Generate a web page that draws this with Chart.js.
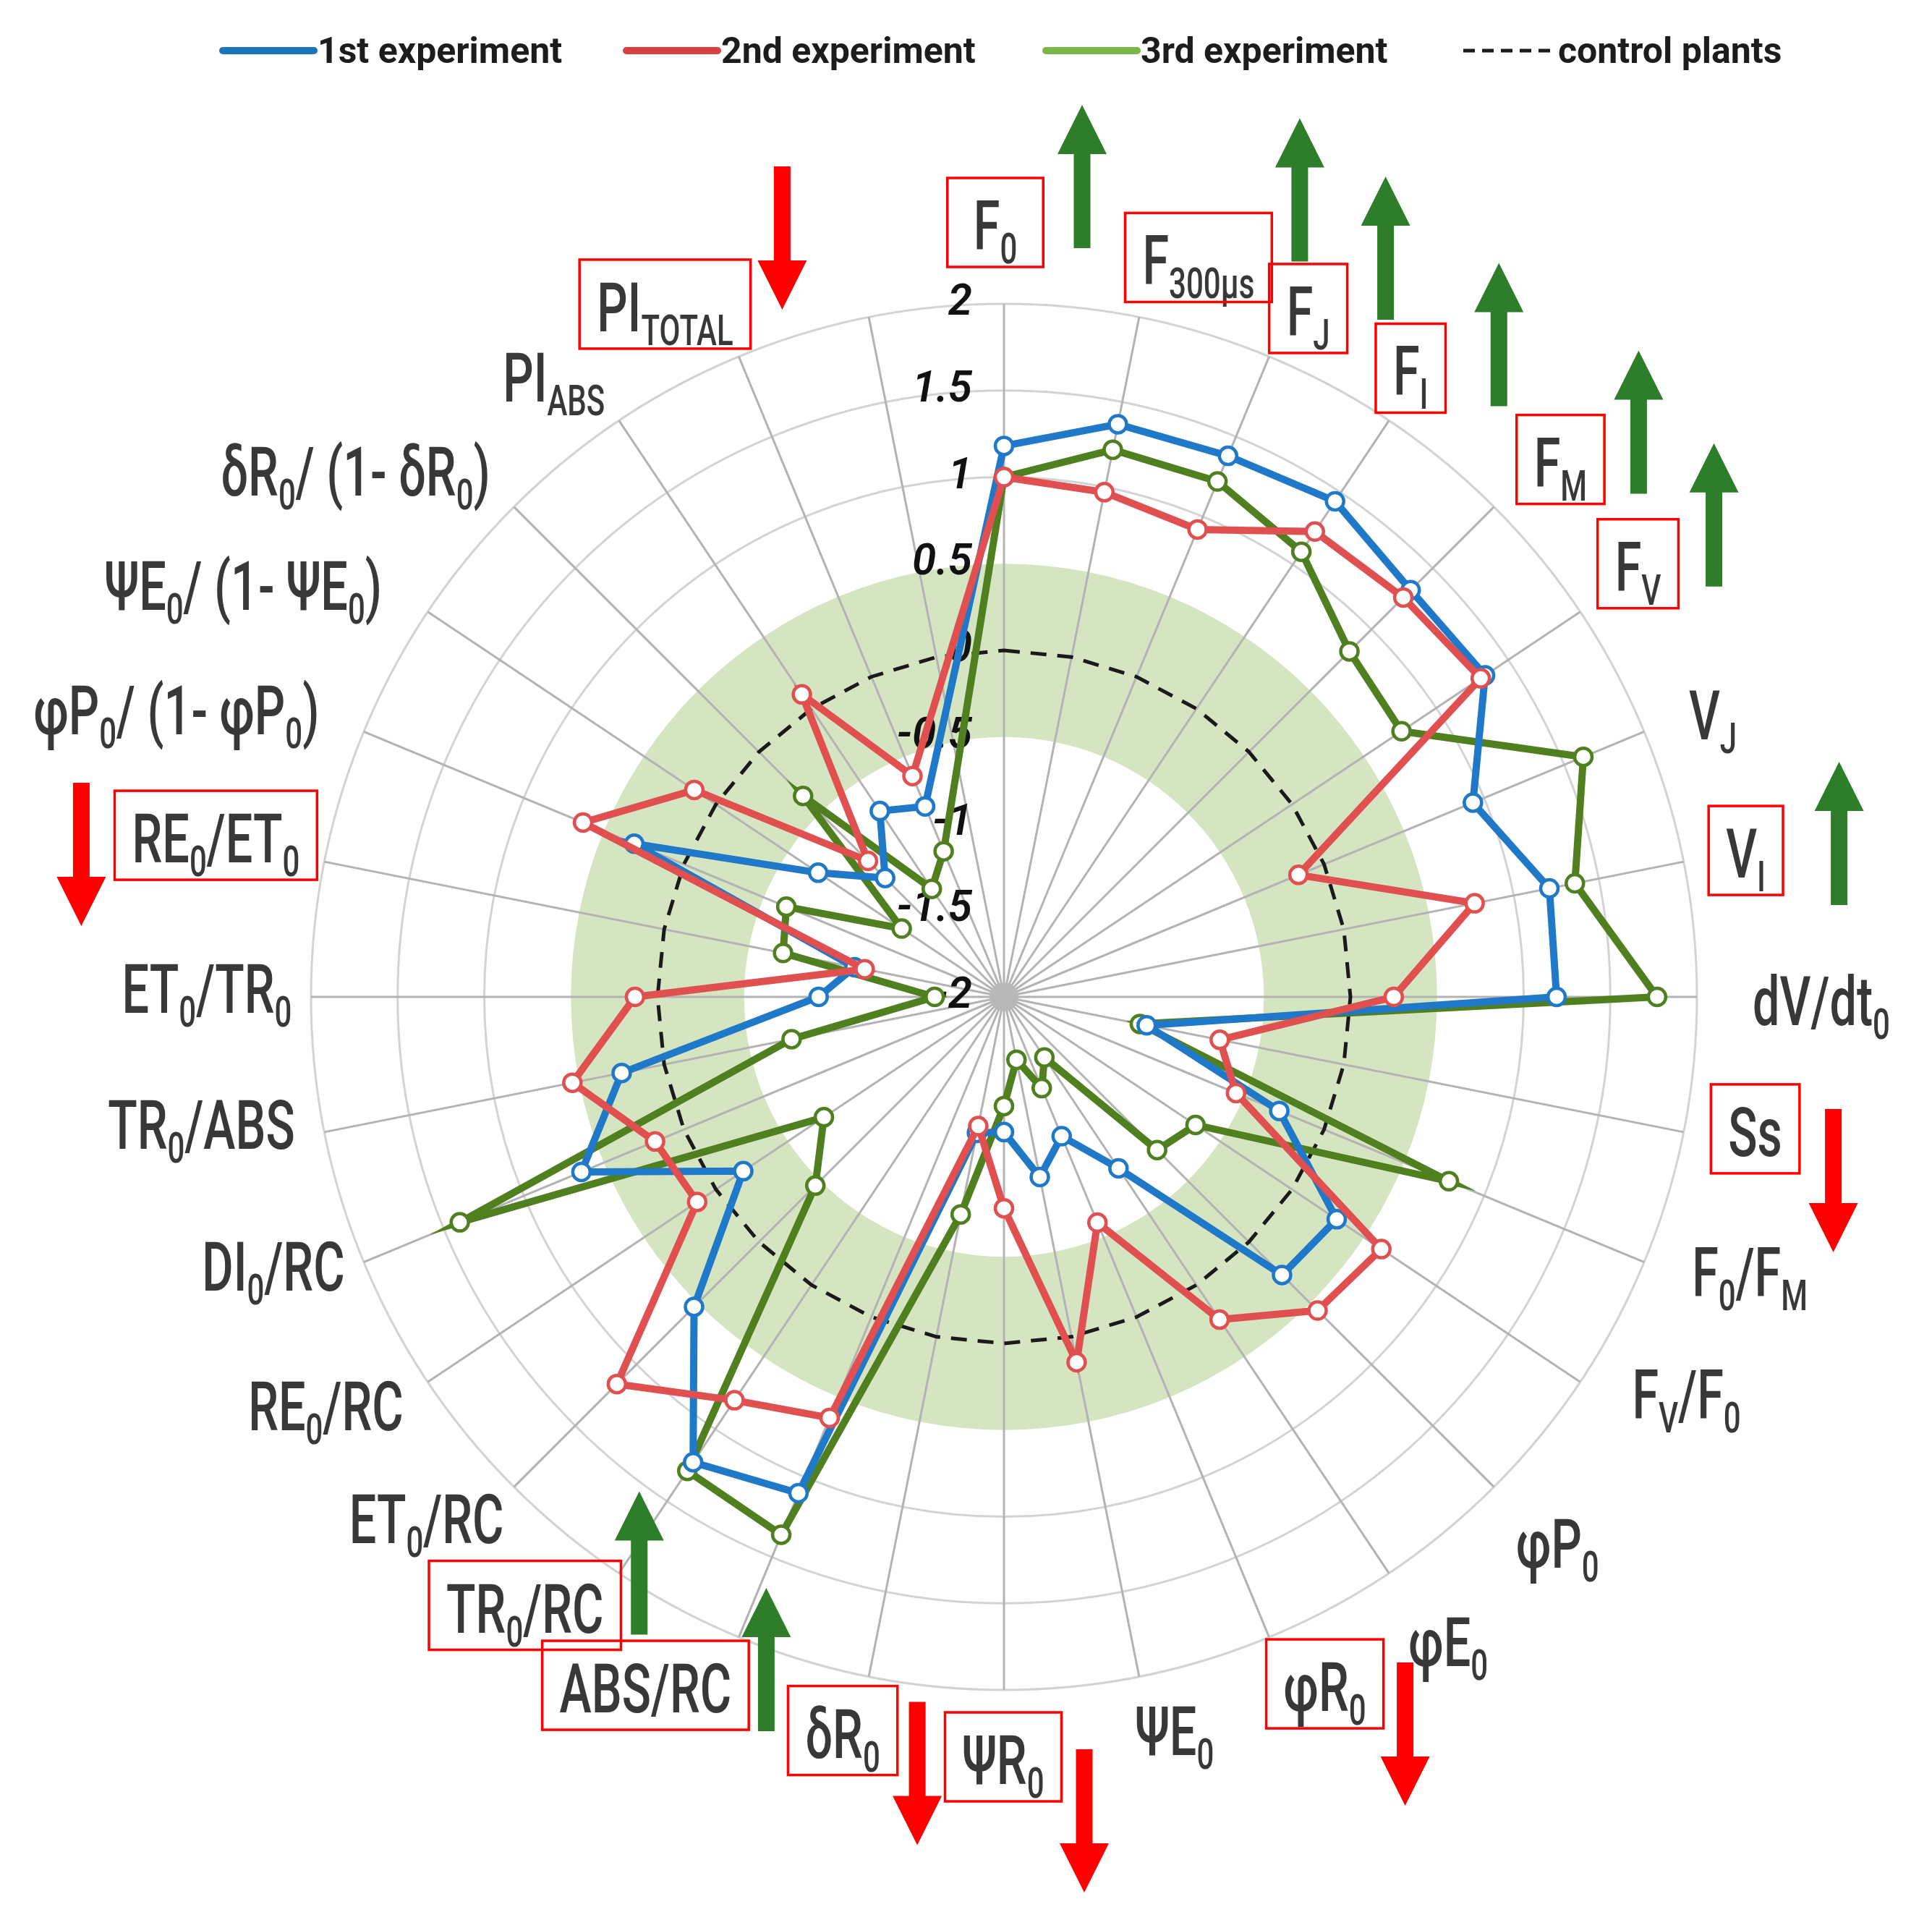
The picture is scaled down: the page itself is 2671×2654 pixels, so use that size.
<!DOCTYPE html>
<html lang="en">
<head>
<meta charset="utf-8">
<title>JIP-test radar</title>
<script src="https://cdn.jsdelivr.net/npm/chart.js@4.4.1/dist/chart.umd.min.js"></script>
<style>
    html, body { margin: 0; padding: 0; background: #ffffff; }
    canvas { display: block; }
</style>
</head>
<body>
<canvas id="grafic-radar" width="2671" height="2654"></canvas>
<script>
// Paràmetres del test JIP, en sentit horari des de dalt. _{...} = subíndex
var parametres = ['F_{0}', 'F_{300µs}', 'F_{J}', 'F_{I}', 'F_{M}', 'F_{V}', 'V_{J}', 'V_{I}', 'dV/dt_{0}', 'Ss',
    'F_{0}/F_{M}', 'F_{V}/F_{0}', 'φP_{0}', 'φE_{0}', 'φR_{0}', 'ΨE_{0}', 'ΨR_{0}', 'δR_{0}', 'ABS/RC', 'TR_{0}/RC',
    'ET_{0}/RC', 'RE_{0}/RC', 'DI_{0}/RC', 'TR_{0}/ABS', 'ET_{0}/TR_{0}', 'RE_{0}/ET_{0}', 'φP_{0}/ (1- φP_{0})',
    'ΨE_{0}/ (1- ΨE_{0})', 'δR_{0}/ (1- δR_{0})', 'PI_{ABS}', 'PI_{TOTAL}', ''];

var experiment1 = [1.18, 1.37, 1.38, 1.44, 1.32, 1.34, 0.93, 1.21, 1.19, -1.16, -0.28, 0.31, 0.27, -0.81, -1.13, -0.94,
    -1.22, -1.2, 1.10, 1.23, 0.53, -0.19, 0.64, 0.25, -0.93, -1.12, 0.31, -0.71, -1.03, -0.71, -0.81, null];
var experiment2 = [1.0, 0.97, 0.92, 1.23, 1.26, 1.31, -0.16, 0.77, 0.25, -0.73, -0.55, 0.62, 0.56, 0.24, -0.59, 0.15,
    -0.78, -1.24, 0.63, 0.80, 1.16, 0.13, 0.18, 0.54, 0.13, -1.18, 0.63, 0.15, -0.89, 0.10, -0.62, null];
var experiment3 = [1.0, 1.22, 1.22, 1.09, 0.82, 0.76, 1.62, 1.36, 1.77, -1.2, 0.78, -0.67, -0.75, -1.58, -1.43, -1.63,
    -1.37, -0.72, 1.36, 1.29, -0.46, -0.75, 1.40, -0.75, -1.6, -0.70, -0.64, -1.29, -0.36, -1.25, -1.09, null];
var controls = [0, 0, 0, 0, 0, 0, 0, 0, 0, 0, 0, 0, 0, 0, 0, 0, 0, 0, 0, 0, 0, 0, 0, 0, 0, 0, 0, 0, 0, 0, 0, 0];

var valorsEscala = [-2, -1.5, -1, -0.5, 0, 0.5, 1, 1.5, 2];
var etiquetesEscala = ['-2', '-1.5', '-1', '-0.5', '0', '0.5', '1', '1.5', '2'];
var bandaControl = [-0.5, 0.5];

// anotacions: etiquetes emmarcades, fletxes verdes (puja) i vermelles (baixa)
var enMarc = [0, 1, 2, 3, 4, 5, 7, 9, 14, 16, 17, 18, 19, 25, 30];
var pugen = [0, 1, 2, 3, 4, 5, 7, 18, 19];
var baixen = [9, 14, 16, 17, 25, 30];

// --- disposició (px) ---
// centre de cada etiqueta respecte a l'extrem del seu radi
var despEtiquetes = [[-12, -109], [82, -79], [54, -63], [30, -69], [92, -62], [80, -63], [95, -23], [86, -12],
    [172, 5], [99, -1], [146, 13], [147, 17], [88, 78], [82, 94], [77, 68], [49, 74], [-1, 96], [-36, 78],
    [-129, 70], [-130, 48], [-121, 44], [-141, 33], [-125, 5], [-170, -11], [-144, -12], [-150, -33],
    [-259, -30], [-255, -37], [-219, -50], [-90, -60], [-102, -69], [0, 0]];
// fletxa: [dx, dalt] respecte al centre de l'etiqueta
var despFletxes = {0: [120, -166], 1: [140, -196], 2: [107, -186], 3: [122, -149], 4: [108, -154], 5: [105, -170],
    7: [129, -126], 9: [108, -31], 14: [111, -33], 16: [112, -14], 17: [103, -43], 18: [167, -138],
    19: [158, -161], 25: [-186, -76], 30: [162, -194]};
var llegendaX = [308, 866, 1446, 2023];

var grafic = null;

function trossos(text) {
    var parts = [];
    var re = /_\{([^}]*)\}/g;
    var ultim = 0;
    var m;
    while ((m = re.exec(text)) !== null) {
        if (m.index > ultim) parts.push({t: text.slice(ultim, m.index), sub: false});
        parts.push({t: m[1], sub: true});
        ultim = re.lastIndex;
    }
    if (ultim < text.length) parts.push({t: text.slice(ultim), sub: false});
    return parts;
}

function dibuixarText(ctx, text, cx, cy) {
    var escala = 0.70;
    var fontGran = '500 95px Roboto';
    var fontPetita = '500 60px Roboto';
    var parts = trossos(text);
    var amplada = 0;
    for (var i = 0; i < parts.length; i++) {
        ctx.font = parts[i].sub ? fontPetita : fontGran;
        parts[i].w = ctx.measureText(parts[i].t).width;
        amplada += parts[i].w;
    }
    ctx.save();
    ctx.translate(cx - amplada * escala / 2, cy + 34);
    ctx.scale(escala, 1);
    ctx.fillStyle = '#383838';
    ctx.textAlign = 'left';
    ctx.textBaseline = 'alphabetic';
    var x = 0;
    for (var j = 0; j < parts.length; j++) {
        ctx.font = parts[j].sub ? fontPetita : fontGran;
        ctx.fillText(parts[j].t, x, parts[j].sub ? 19 : 0);
        x += parts[j].w;
    }
    ctx.restore();
    return amplada * escala;
}

function fletxa(ctx, x, dalt, amunt, color) {
    var llarg = 198, cap = 68, ampleCap = 68, tija = 23;
    var punta = amunt ? dalt : dalt + llarg;
    var s = amunt ? 1 : -1;
    ctx.fillStyle = color;
    ctx.beginPath();
    ctx.moveTo(x, punta);
    ctx.lineTo(x + ampleCap / 2, punta + s * cap);
    ctx.lineTo(x + tija / 2, punta + s * cap);
    ctx.lineTo(x + tija / 2, punta + s * llarg);
    ctx.lineTo(x - tija / 2, punta + s * llarg);
    ctx.lineTo(x - tija / 2, punta + s * cap);
    ctx.lineTo(x - ampleCap / 2, punta + s * cap);
    ctx.closePath();
    ctx.fill();
}

function dibuixarEtiquetes(chart) {
    var ctx = chart.ctx;
    var r = chart.scales.r;
    for (var i = 0; i < parametres.length; i++) {
        if (!parametres[i]) continue;
        var p = r.getPointPosition(i, r.drawingArea);
        var cx = p.x + despEtiquetes[i][0];
        var cy = p.y + despEtiquetes[i][1];
        var w = dibuixarText(ctx, parametres[i], cx, cy);
        if (enMarc.indexOf(i) >= 0) {
            var marge = i === 0 ? 36 : 24;
            ctx.save();
            ctx.strokeStyle = '#ff0000';
            ctx.lineWidth = 3.5;
            ctx.strokeRect(cx - w / 2 - marge, cy - 65, w + 2 * marge, 123);
            ctx.restore();
        }
        var f = despFletxes[i];
        if (f) {
            if (pugen.indexOf(i) >= 0) fletxa(ctx, cx + f[0], cy + f[1], true, '#2e7d2a');
            if (baixen.indexOf(i) >= 0) fletxa(ctx, cx + f[0], cy + f[1], false, '#ff0000');
        }
    }
}

function dibuixarLlegenda(chart) {
    var ctx = chart.ctx;
    var sets = chart.data.datasets;
    ctx.save();
    ctx.font = 'bold 50px Roboto';
    ctx.textBaseline = 'alphabetic';
    ctx.fillStyle = '#1c1c1c';
    for (var i = 0; i < sets.length; i++) {
        var x = llegendaX[i];
        ctx.beginPath();
        ctx.lineWidth = sets[i].borderDash ? 5 : 10;
        ctx.strokeStyle = sets[i].colorLlegenda;
        ctx.setLineDash(sets[i].borderDash ? [16, 10] : []);
        ctx.lineCap = sets[i].borderDash ? 'butt' : 'round';
        ctx.moveTo(x, 70);
        ctx.lineTo(x + 126, 70);
        ctx.stroke();
        ctx.setLineDash([]);
        ctx.fillText(sets[i].label, x + 131, 87);
    }
    ctx.restore();
}

var anotacions = {
    id: 'anotacions',
    beforeDraw: function(chart) {
        // banda verda de la variació dels controls
        var r = chart.scales.r;
        var ctx = chart.ctx;
        var dins = r.getDistanceFromCenterForValue(bandaControl[0]);
        var fora = r.getDistanceFromCenterForValue(bandaControl[1]);
        ctx.save();
        ctx.beginPath();
        ctx.arc(r.xCenter, r.yCenter, fora, 0, Math.PI * 2);
        ctx.arc(r.xCenter, r.yCenter, dins, 0, Math.PI * 2, true);
        ctx.fillStyle = '#d5e5c1';
        ctx.fill();
        ctx.restore();
    },
    beforeDatasetsDraw: function(chart) {
        var r = chart.scales.r;
        var ctx = chart.ctx;
        ctx.save();
        // taca grisa on convergeixen els radis
        ctx.beginPath();
        ctx.arc(r.xCenter, r.yCenter, 20, 0, Math.PI * 2);
        ctx.fillStyle = '#b8b8b8';
        ctx.fill();
        ctx.font = 'italic 600 60px Roboto';
        ctx.textAlign = 'right';
        ctx.textBaseline = 'middle';
        ctx.fillStyle = '#111111';
        for (var i = 0; i < valorsEscala.length; i++) {
            var d = r.getDistanceFromCenterForValue(valorsEscala[i]);
            ctx.fillText(etiquetesEscala[i], r.xCenter - 44, r.yCenter - d);
        }
        ctx.restore();
    },
    afterDraw: function(chart) {
        dibuixarEtiquetes(chart);
        dibuixarLlegenda(chart);
    }
};

function serie(etiqueta, dades, color, colorLlegenda, ordre) {
    return {
        label: etiqueta,
        data: dades,
        borderColor: color,
        backgroundColor: color,
        borderWidth: 10,
        pointRadius: 12,
        pointBorderWidth: 4.5,
        pointBackgroundColor: '#ffffff',
        pointBorderColor: color,
        fill: false,
        spanGaps: true,
        order: ordre,
        colorLlegenda: colorLlegenda
    };
}

function crearGrafic() {
    var ctx = document.getElementById('grafic-radar').getContext('2d');
    var control = {
        label: 'control plants',
        data: controls,
        borderColor: '#1a1a1a',
        borderWidth: 5,
        borderDash: [22, 15],
        pointRadius: 0,
        fill: false,
        order: 3,
        colorLlegenda: '#1a1a1a'
    };

    grafic = new Chart(ctx, {
        type: 'radar',
        data: {
            labels: parametres,
            datasets: [
                serie('1st experiment', experiment1, '#1f78c8', '#1b75bc', 1),
                serie('2nd experiment', experiment2, '#e05050', '#d9403f', 0),
                serie('3rd experiment', experiment3, '#4f7f1e', '#7ab648', 2),
                control
            ]
        },
        options: {
            responsive: false,
            animation: false,
            devicePixelRatio: 1,
            layout: {
                padding: {left: 430, right: 325, top: 420, bottom: 318}
            },
            elements: {
                line: {tension: 0}
            },
            plugins: {
                legend: {display: false},
                tooltip: {enabled: false}
            },
            scales: {
                r: {
                    min: -2,
                    max: 2,
                    ticks: {display: false, stepSize: 0.5},
                    pointLabels: {display: false},
                    grid: {
                        circular: true,
                        lineWidth: 3,
                        color: function(c) {
                            return c.tick && c.tick.value >= 1 ? '#d3d3d3' : 'rgba(0,0,0,0)';
                        }
                    },
                    angleLines: {color: '#b3b3b3', lineWidth: 3}
                }
            }
        },
        plugins: [anotacions]
    });
}

document.addEventListener('DOMContentLoaded', function() {
    crearGrafic();
});
</script>
</body>
</html>
